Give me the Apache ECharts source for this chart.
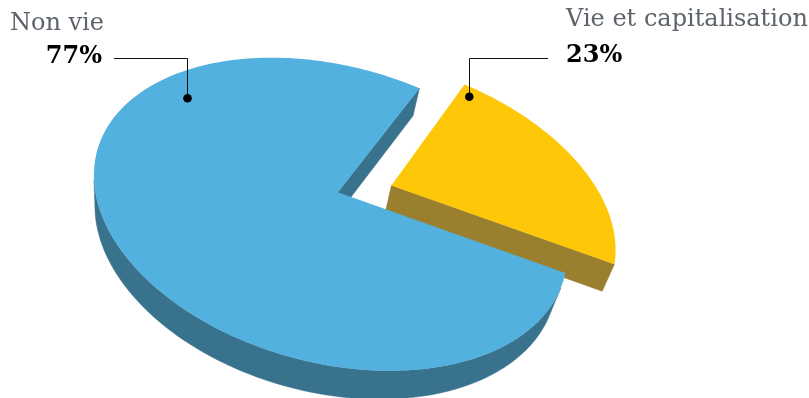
<!DOCTYPE html>
<html><head><meta charset="utf-8">
<script src="https://cdn.jsdelivr.net/npm/echarts@6/dist/echarts.min.js"></script>
<style>html,body{margin:0;padding:0;background:#fff}#main{width:809px;height:398px}</style>
</head><body><div id="main"></div>
<script>
// ---- data ----
const categories = ['Vie et capitalisation', 'Non vie'];
const values = [23, 77];

// ---- style / layout ----
const topColors = ['#fec708', '#52b1de'];
const sideColors = ['#9a7f2e', '#39728c'];
// projective view of the tilted pie (plane X,Z; height Y, top face Y=0, bottom Y=-1)
const CAM = [245.21, -3.47, -56.37, 315.95, -9.33, -35.03, -127.73, 195.02, 92.15, -26.34, 127.20];
const EXPL = [0.3607, -0.1022];
const FONT = '"DejaVu Serif", serif';
const GREY = '#5d636b';

function proj(X, Y, Z) {
  const p = CAM;
  const den = 1 + (p[8]*X + p[9]*Y + p[10]*Z)*0.001;
  return [(p[0]*X + p[1]*Y + p[2]*Z + p[3])/den, (p[4]*X + p[5]*Y + p[6]*Z + p[7])/den];
}
const total = values.reduce((a,b)=>a+b,0);
const angles = []; { let a = -Math.PI*values[0]/total; for (const v of values){ const b=a+2*Math.PI*v/total; angles.push([a,b]); a=b; } }
function area(pts){ let s=0; for(let i=0;i<pts.length;i++){const a=pts[i],b=pts[(i+1)%pts.length]; s+=a[0]*b[1]-b[0]*a[1];} return s; }
const circ=[]; for(let k=0;k<36;k++){const t=k/36*2*Math.PI; circ.push(proj(Math.cos(t),0,Math.sin(t)));}
const frontSign = -Math.sign(area(circ));
function geom(i){
  const [t0,t1]=angles[i]; const mid=(t0+t1)/2; const e=EXPL[i];
  const cx=e*Math.cos(mid), cz=e*Math.sin(mid);
  const P=(th,Y)=>proj(cx+Math.cos(th),Y,cz+Math.sin(th)); const C=(Y)=>proj(cx,Y,cz);
  const N=Math.max(8,Math.ceil((t1-t0)/(Math.PI/120)));
  const th=k=>t0+(t1-t0)*k/N;
  const top=[C(0)]; for(let k=0;k<=N;k++) top.push(P(th(k),0));
  const walls=[];
  const rs=[C(0),P(t0,0),P(t0,-1),C(-1)]; if(Math.sign(area(rs))===frontSign) walls.push(rs);
  const re=[P(t1,0),C(0),C(-1),P(t1,-1)]; if(Math.sign(area(re))===frontSign) walls.push(re);
  let run=null;
  for(let k=0;k<N;k++){
    const q=[P(th(k),0),P(th(k+1),0),P(th(k+1),-1),P(th(k),-1)];
    const vis=Math.sign(area(q))===frontSign;
    if(vis){ if(!run) run=[k,k]; else run[1]=k; }
    if((!vis||k===N-1)&&run){ const pts=[]; for(let j=run[0];j<=run[1]+1;j++) pts.push(P(th(j),0)); for(let j=run[1]+1;j>=run[0];j--) pts.push(P(th(j),-1)); walls.push(pts); run=null; }
  }
  return {top,walls};
}
const pct = v => Math.round(v/total*100) + '%';
const data = categories.map((c,i)=>({name:c,value:values[i]}));
const chart = echarts.init(document.getElementById('main'));
chart.setOption({
  animation:false,
  series:[
    {type:'custom',coordinateSystem:'none',z:1,data,silent:true,
     renderItem:(params,api)=>{const g=geom(params.dataIndex); const c=sideColors[params.dataIndex];
       return {type:'group',children:g.walls.map(w=>({type:'polygon',shape:{points:w},style:{fill:c,stroke:c,lineWidth:0.5}}))};}},
    {type:'custom',coordinateSystem:'none',z:2,data,silent:true,
     renderItem:(params,api)=>{const g=geom(params.dataIndex);
       return {type:'polygon',shape:{points:g.top},style:{fill:topColors[params.dataIndex]}};}}
  ],
  graphic:[
    {type:'text',x:10,y:24,z:10,style:{text:categories[1],font:'24px '+FONT,fill:GREY,textVerticalAlign:'middle'}},
    {type:'text',x:102,y:57,z:10,style:{text:pct(values[1]),font:'bold 24px '+FONT,fill:'#000',textAlign:'right',textVerticalAlign:'middle'}},
    {type:'polyline',z:10,shape:{points:[[114,58.5],[187.5,58.5],[187.5,98]]},style:{stroke:'#111',lineWidth:1,fill:null}},
    {type:'circle',z:10,shape:{cx:187.5,cy:98.3,r:4.3},style:{fill:'#000'}},
    {type:'text',x:566,y:20,z:10,style:{text:categories[0],font:'24px '+FONT,fill:GREY,textVerticalAlign:'middle'}},
    {type:'text',x:566,y:56,z:10,style:{text:pct(values[0]),font:'bold 24px '+FONT,fill:'#000',textVerticalAlign:'middle'}},
    {type:'polyline',z:10,shape:{points:[[548,58.5],[469.5,58.5],[469.5,97]]},style:{stroke:'#111',lineWidth:1,fill:null}},
    {type:'circle',z:10,shape:{cx:469.3,cy:96.7,r:4.3},style:{fill:'#000'}}
  ]
});
</script></body></html>
